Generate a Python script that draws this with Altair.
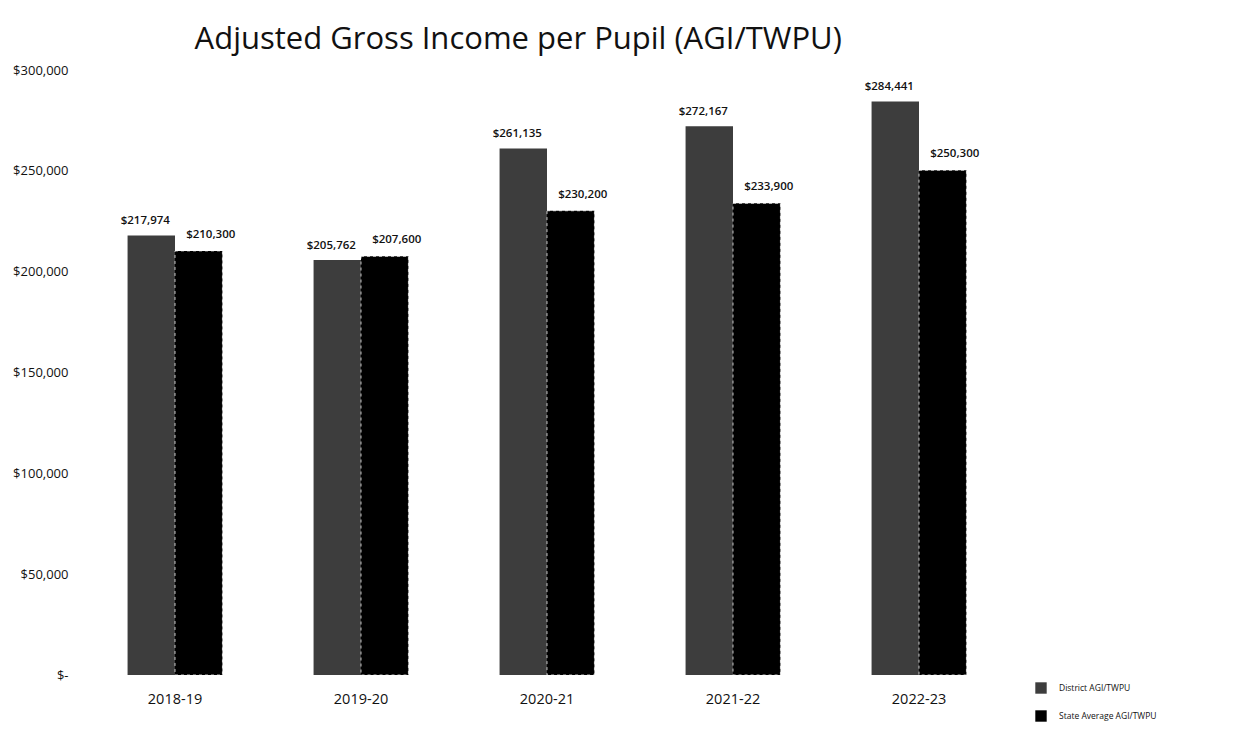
import altair as alt
import pandas as pd

# School years on the x axis
YEARS = ["2018-19", "2019-20", "2020-21", "2021-22", "2022-23"]

# Series names
SERIES = ["District AGI/TWPU", "State Average AGI/TWPU"]

# Adjusted gross income per pupil, in dollars
DISTRICT = [217974, 205762, 261135, 272167, 284441]
STATE = [210300, 207600, 230200, 233900, 250300]

rows = []
for year, d, s in zip(YEARS, DISTRICT, STATE):
    rows.append({"year": year, "series": SERIES[0], "value": d})
    rows.append({"year": year, "series": SERIES[1], "value": s})
df = pd.DataFrame(rows)
df["label"] = df["value"].map(lambda v: f"${v:,}")

FONT = "Open Sans"

x_enc = alt.X(
    "year:N",
    sort=YEARS,
    title=None,
    scale=alt.Scale(paddingInner=0.49, paddingOuter=0.245),
    axis=alt.Axis(
        labelAngle=0,
        labelFontSize=14.5,
        labelFont=FONT,
        labelColor="#111111",
        labelPadding=17,
        domain=False,
        ticks=False,
    ),
)
xoff = alt.XOffset("series:N", sort=SERIES, scale=alt.Scale(paddingInner=0))
y_enc = alt.Y(
    "value:Q",
    title=None,
    scale=alt.Scale(domain=[0, 300000], nice=False),
    axis=alt.Axis(
        values=[0, 50000, 100000, 150000, 200000, 250000, 300000],
        labelExpr="datum.value == 0 ? '$-' : '$' + format(datum.value, ',')",
        labelFontSize=13,
        labelFont=FONT,
        labelColor="#111111",
        labelPadding=14,
        domain=False,
        ticks=False,
        grid=False,
    ),
)

bars = alt.Chart(df).mark_bar(strokeWidth=1, strokeDash=[3, 3]).encode(
    x=x_enc,
    xOffset=xoff,
    y=y_enc,
    color=alt.Color(
        "series:N",
        sort=SERIES,
        scale=alt.Scale(domain=SERIES, range=["#3d3d3d", "#000000"]),
        legend=alt.Legend(
            title=None,
            orient="none",
            legendX=953,
            legendY=612,
            symbolType="square",
            symbolSize=130,
            symbolStrokeWidth=0,
            labelFontSize=8.5,
            labelFont=FONT,
            labelColor="#111111",
            labelOffset=12,
            rowPadding=16,
        ),
    ),
    stroke=alt.condition(
        f"datum.series == '{SERIES[1]}'", alt.value("white"), alt.value("transparent")
    ),
    strokeOpacity=alt.value(0.75),
)

def value_labels(series, dx, dy):
    return (
        alt.Chart(df)
        .transform_filter(alt.datum.series == series)
        .mark_text(
            baseline="bottom",
            dx=dx,
            dy=dy,
            fontSize=11.5,
            fontWeight=600,
            font=FONT,
            color="#111111",
        )
        .encode(x=x_enc, xOffset=xoff, y=y_enc, text="label:N")
    )

chart = (
    alt.layer(
        bars,
        value_labels(SERIES[0], -6, -9),
        value_labels(SERIES[1], 12, -11),
    )
    .properties(
        width=930,
        height=605,
        padding={"left": 82, "top": 70, "right": 235, "bottom": 64},
        autosize=alt.AutoSizeParams(type="none"),
        title=alt.TitleParams(
            "Adjusted Gross Income per Pupil (AGI/TWPU)",
            anchor="start",
            dx=182,
            offset=8,
            fontSize=31,
            font=FONT,
            fontWeight="normal",
            color="#111111",
        ),
    )
    .configure(background="white")
    .configure_view(strokeWidth=0, stroke="transparent")
)

chart.save("out.html", embed_options={"renderer": "svg", "actions": False})
